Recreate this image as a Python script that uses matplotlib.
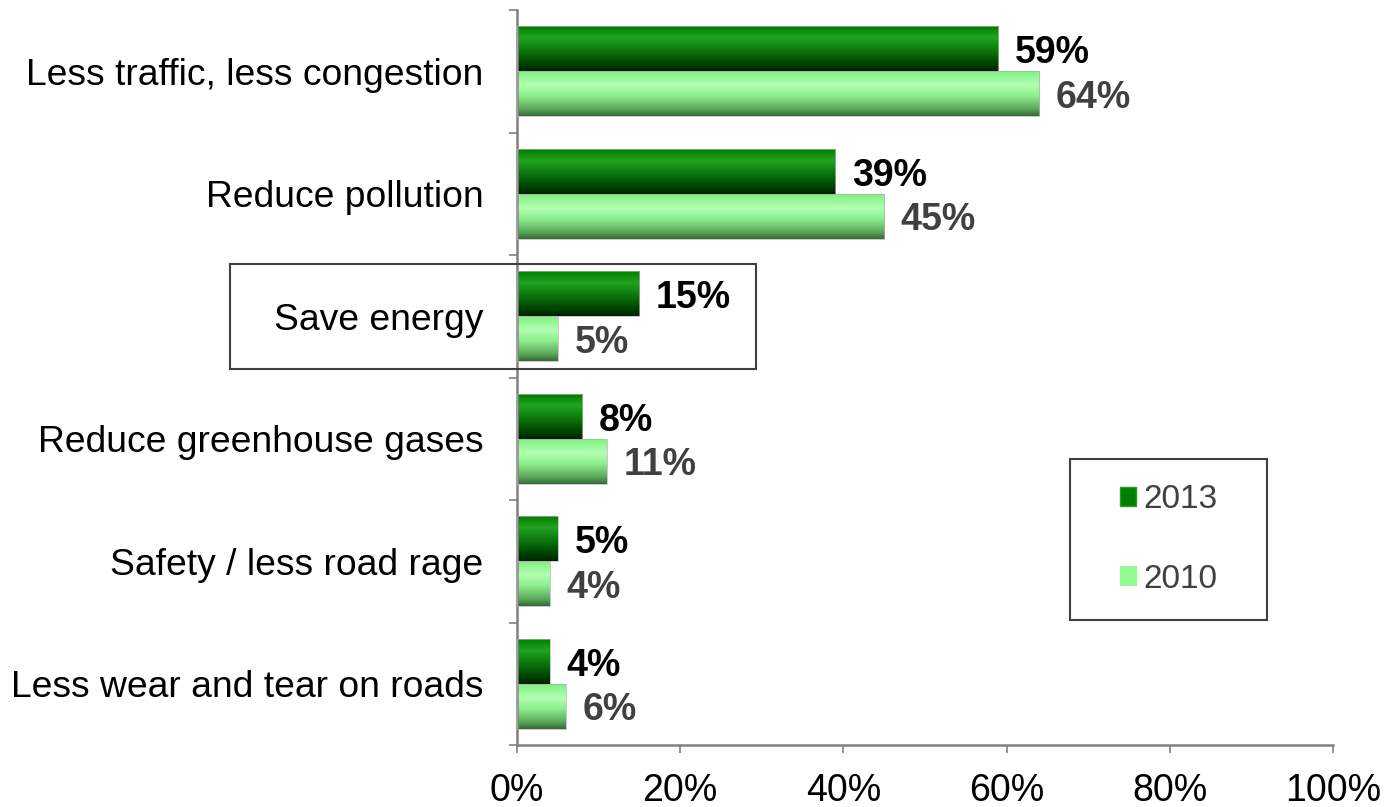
"""Reasons for supporting the measure, 2013 vs 2010, horizontal bar chart."""

import matplotlib.pyplot as plt
import numpy as np
from matplotlib.colors import LinearSegmentedColormap
from matplotlib.patches import Patch, Rectangle

plt.rcParams["font.family"] = ["Liberation Sans", "DejaVu Sans"]

CATEGORIES = [
    "Less traffic, less congestion",
    "Reduce pollution",
    "Save energy",
    "Reduce greenhouse gases",
    "Safety / less road rage",
    "Less wear and tear on roads",
]
VALUES_2013 = [59, 39, 15, 8, 5, 4]
VALUES_2010 = [64, 45, 5, 11, 4, 6]
SERIES_NAMES = ["2013", "2010"]
X_TICKS = [0, 20, 40, 60, 80, 100]
HIGHLIGHT = "Save energy"

BAR_H = 0.366

# Vertical shading to mimic the cylinder look of the original bars.
dark_cmap = LinearSegmentedColormap.from_list(
    "dark",
    [(0.0, "#008000"), (0.25, "#22a322"), (0.45, "#118611"),
     (0.8, "#004a00"), (1.0, "#002400")],
)
light_cmap = LinearSegmentedColormap.from_list(
    "light",
    [(0.0, "#80f080"), (0.3, "#b2ffb2"), (0.55, "#8eee8e"),
     (0.85, "#5aa85a"), (1.0, "#3a6a3a")],
)
grad = np.linspace(0, 1, 64).reshape(-1, 1)


def draw_bar(ax, y, value, cmap):
    # row 0 of the gradient sits at the visual top of the bar
    ax.imshow(grad, cmap=cmap, aspect="auto", origin="upper",
              extent=[0, value, y + BAR_H / 2, y - BAR_H / 2],
              interpolation="bilinear", zorder=2)
    ax.add_patch(Rectangle((0, y - BAR_H / 2), value, BAR_H, fill=False,
                           edgecolor="#b0b0b0", linewidth=0.5, zorder=3))


fig = plt.figure(figsize=(13.99, 8.07), dpi=100)
ax = fig.add_axes([0.3695, 0.0768, 0.5833, 0.9108])

ypos = np.arange(len(CATEGORIES))
for y, v13, v10 in zip(ypos, VALUES_2013, VALUES_2010):
    draw_bar(ax, y - BAR_H / 2, v13, dark_cmap)
    draw_bar(ax, y + BAR_H / 2, v10, light_cmap)
    ax.annotate(f"{v13}%", (v13, y - BAR_H / 2), xytext=(12, -3),
                textcoords="offset points", va="center", ha="left",
                fontsize=27, fontweight="bold", color="black")
    ax.annotate(f"{v10}%", (v10, y + BAR_H / 2), xytext=(12, -3),
                textcoords="offset points", va="center", ha="left",
                fontsize=27, fontweight="bold", color="#404040")

ax.set_xlim(0, 100)
ax.set_ylim(len(CATEGORIES) - 0.5, -0.5)

ax.set_xticks(X_TICKS)
ax.set_xticklabels([f"{t}%" for t in X_TICKS], fontsize=27)
ax.set_yticks(np.arange(-0.5, len(CATEGORIES), 1.0))
ax.set_yticklabels([])
ax.set_yticks(ypos, minor=True)
ax.set_yticklabels(CATEGORIES, minor=True, fontsize=26.8)
ax.tick_params(axis="y", which="minor", length=0, pad=24)
ax.tick_params(axis="y", which="major", length=6, width=1.2, color="#808080")
ax.tick_params(axis="x", length=6, width=1.2, color="#808080", pad=14)

for side in ["top", "right"]:
    ax.spines[side].set_visible(False)
for side in ["left", "bottom"]:
    ax.spines[side].set_color("#808080")
    ax.spines[side].set_linewidth(1.8)

# box around the highlighted category
hi = CATEGORIES.index(HIGHLIGHT)
ax.add_patch(Rectangle((-35.2, hi - 0.43), 64.5, 0.86, fill=False,
                       edgecolor="#404040", linewidth=1.5, clip_on=False,
                       zorder=4))

# legend frame drawn separately so the entries can sit centred in it
ax.add_patch(Rectangle((0.6777, 0.170), 0.2414, 0.219, transform=ax.transAxes,
                       fill=False, edgecolor="#404040", linewidth=1.5,
                       clip_on=False, zorder=4))
handles = [Patch(facecolor="#008000", edgecolor="#2a9a2a"),
           Patch(facecolor="#90ff90", edgecolor="#a0f0a0")]
leg = ax.legend(handles, SERIES_NAMES, loc="center",
                bbox_to_anchor=(0.7984, 0.2795), fontsize=24,
                handlelength=0.5, handleheight=0.5, handletextpad=0.2,
                labelspacing=1.45, borderpad=0, frameon=False,
                borderaxespad=0)
for txt in leg.get_texts():
    txt.set_color("#404040")

fig.savefig("out.png", dpi=100)
